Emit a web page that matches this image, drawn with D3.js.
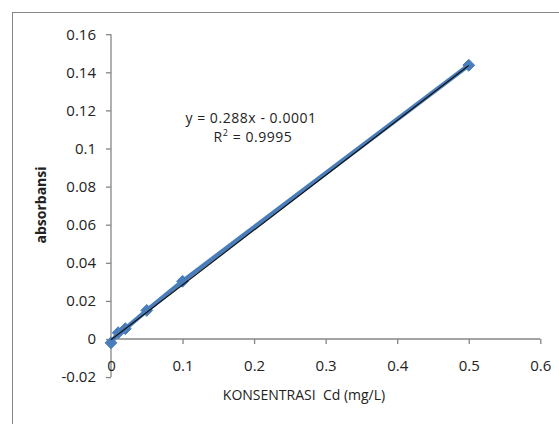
<!DOCTYPE html>
<html><head><meta charset="utf-8">
<script src="https://cdn.jsdelivr.net/npm/d3@7"></script>
<style>
html,body{margin:0;padding:0;background:#fff;}
svg{display:block;}
text{font-family:"Open Sans","Noto Sans",sans-serif;fill:#222;white-space:pre;}
</style></head>
<body>
<svg id="c" width="559" height="424"></svg>
<script>
// Data
const concentrations = [0, 0.01, 0.02, 0.05, 0.1, 0.5];
const absorbances = [-0.002, 0.0033, 0.0054, 0.015, 0.0303, 0.1437];
const xTicks = [0, 0.1, 0.2, 0.3, 0.4, 0.5, 0.6];
const yTicks = [-0.02, 0, 0.02, 0.04, 0.06, 0.08, 0.1, 0.12, 0.14, 0.16];
const trendSlope = 0.288;
const trendIntercept = -0.0001;
const equationText = "y = 0.288x - 0.0001";
const r2Value = "0.9995";
const xTitle = "KONSENTRASI  Cd (mg/L)";
const yTitle = "absorbansi";

const svg = d3.select("#c");
const axisColor = "#868686";
const blue = "#4A7EBB";

// chart border (extends beyond visible area)
svg.append("rect").attr("x",12.5).attr("y",12.5).attr("width",600).attr("height",500)
  .attr("fill","#fff").attr("stroke","#868686").attr("stroke-width",1);

const x = d3.scaleLinear().domain([0,0.6]).range([111,540.3]);
const y = d3.scaleLinear().domain([-0.02,0.16]).range([377.1,34.2]);

const fmt = d => String(+d.toFixed(2));

// Y axis
const gy = svg.append("g").attr("transform",`translate(${x(0)},0)`)
  .call(d3.axisLeft(y).tickValues(yTicks).tickSize(5).tickPadding(10).tickFormat(fmt));
// X axis at y=0
const gx = svg.append("g").attr("transform",`translate(0,${y(0)})`)
  .call(d3.axisBottom(x).tickValues(xTicks).tickSize(5).tickPadding(16).tickFormat(fmt));
[gx,gy].forEach(g=>{
  g.selectAll("path").attr("stroke",axisColor).attr("stroke-width",1.3);
  g.selectAll("line").attr("stroke",axisColor).attr("stroke-width",1.3);
  g.selectAll("text").attr("font-size",15).attr("fill","#222")
   .style("font-family",'"Open Sans","Noto Sans",sans-serif');
});
gx.select(".domain").attr("d",`M${x(0)},0H${x(0.6)}`);
gy.select(".domain").attr("d",`M0,${y(0.16)}V${y(-0.02)}`);

// data
const pts = concentrations.map((c,i)=>({x:c,y:absorbances[i]}));
const line = d3.line().x(d=>x(d.x)).y(d=>y(d.y));
svg.append("path").datum(pts).attr("d",line).attr("fill","none")
  .attr("stroke",blue).attr("stroke-width",4.5).attr("stroke-linejoin","round");

// markers (diamonds)
svg.append("g").selectAll("path").data(pts).join("path")
  .attr("transform",d=>`translate(${x(d.x)},${y(d.y)})`)
  .attr("d",d3.symbol().type(d3.symbolDiamond2).size(90))
  .attr("fill",blue).attr("stroke",blue).attr("stroke-width",1);

// trendline
const tx = d3.extent(concentrations);
svg.append("line")
  .attr("x1",x(tx[0])).attr("y1",y(trendSlope*tx[0]+trendIntercept)+0.6)
  .attr("x2",x(tx[1])).attr("y2",y(trendSlope*tx[1]+trendIntercept)+0.6)
  .attr("stroke","#111").attr("stroke-width",1.2);

// equation
svg.append("text").attr("font-size",14).attr("letter-spacing",0.55)
  .attr("text-anchor","middle").attr("x",251).attr("y",122.5).text(equationText);
const r2 = svg.append("text").attr("font-size",14).attr("letter-spacing",0.55)
  .attr("text-anchor","middle").attr("x",253).attr("y",141.8);
r2.append("tspan").text("R");
r2.append("tspan").attr("dy",-6).attr("font-size",9).text("2");
r2.append("tspan").attr("dy",6).text(" = " + r2Value);

// titles
svg.append("text").attr("x",304).attr("y",400).attr("text-anchor","middle")
  .attr("font-size",14).text(xTitle);
svg.append("text").attr("transform","translate(46,205) rotate(-90)")
  .attr("text-anchor","middle").attr("font-size",14).attr("font-weight","bold").text(yTitle);
</script>
</body></html>
